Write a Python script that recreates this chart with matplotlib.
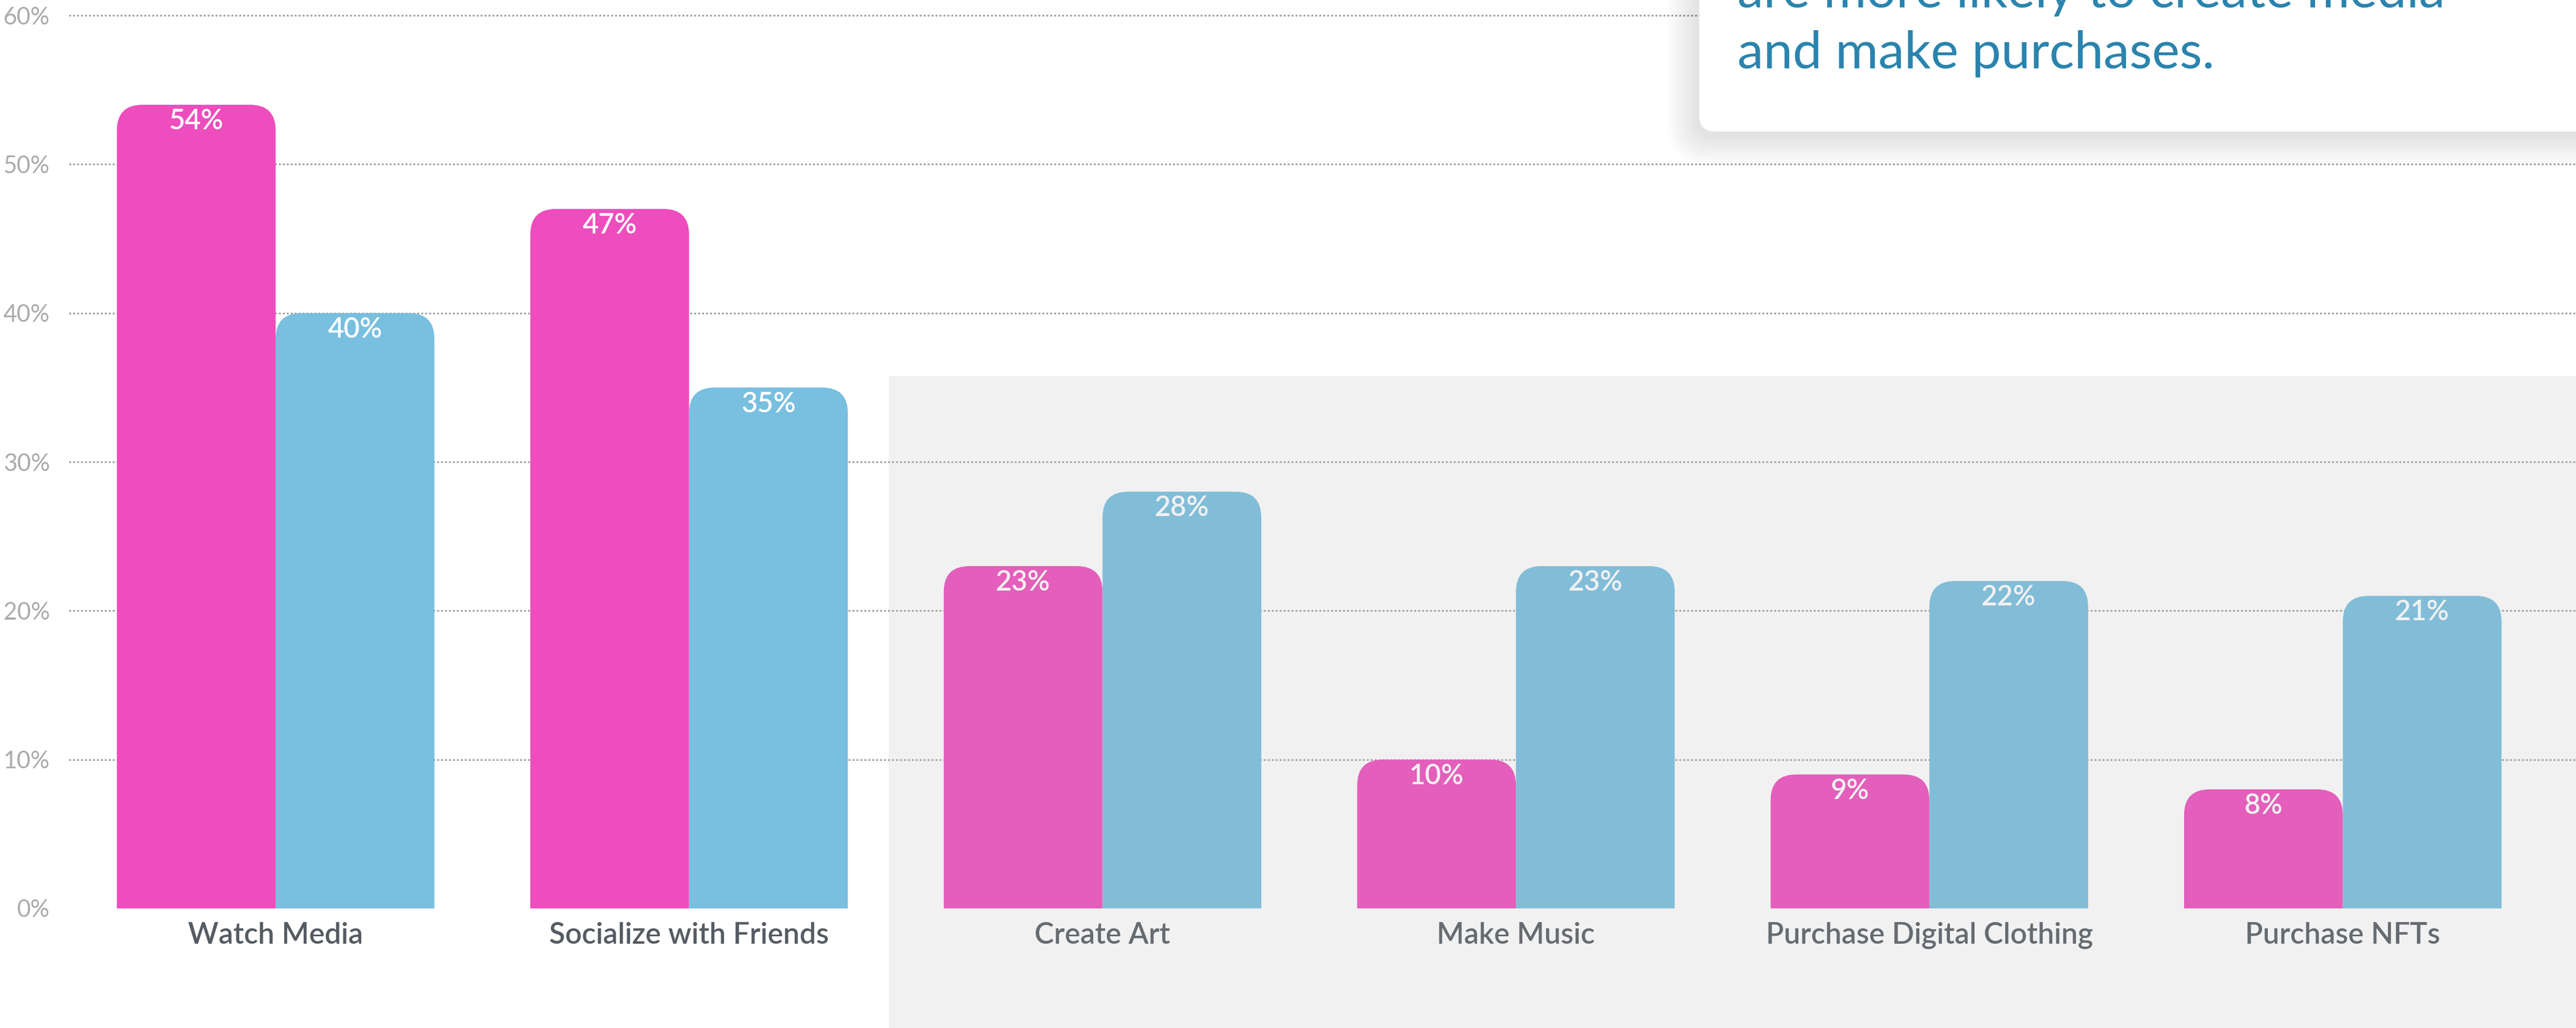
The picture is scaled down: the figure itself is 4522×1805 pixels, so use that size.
import matplotlib
matplotlib.use("Agg")
import matplotlib.pyplot as plt
from matplotlib.patches import FancyBboxPatch, Rectangle

# data
categories = ["Watch Media", "Socialize with Friends", "Create Art",
              "Make Music", "Purchase Digital Clothing", "Purchase NFTs"]
pink_vals = [54, 47, 23, 10, 9, 8]
blue_vals = [40, 35, 28, 23, 22, 21]
y_ticks = [0, 10, 20, 30, 40, 50, 60]
y_labels = ["0%", "10%", "20%", "30%", "40%", "50%", "60%"]
callout_lines = ["are more likely to create media", "and make purchases."]

PINK = "#EE4DBD"
BLUE = "#78BFE0"

plt.rcParams['font.family'] = ['Lato', 'DejaVu Sans']

W, H = 4522, 1805
fig = plt.figure(figsize=(W / 100, H / 100), dpi=100)
fig.patch.set_facecolor("white")

# main axes: pixel layout
ax = fig.add_axes([121 / W, 210 / H, (W - 121) / W, 1594 / H])
ax.set_xlim(-0.5, 5.564)
ax.set_ylim(0, 61)
for s in ax.spines.values():
    s.set_visible(False)

for v in y_ticks[1:]:
    ax.axhline(v, color="#9a9a9a", lw=2, ls=(0, (1.2, 1.3)), zorder=0)

bw = 0.384
r = 0.062
aspect = 27.78  # y units per x unit in pixel terms


def rounded_bar(x0, h, color):
    p = FancyBboxPatch((x0, -5), bw, h + 5,
                       boxstyle=f"round,pad=0,rounding_size={r}",
                       mutation_aspect=aspect, fc=color, ec="none", zorder=2)
    ax.add_patch(p)


for i, (pv, bv) in enumerate(zip(pink_vals, blue_vals)):
    rounded_bar(i - bw, pv, PINK)
    rounded_bar(i, bv, BLUE)
    for xc, v in ((i - bw / 2, pv), (i + bw / 2, bv)):
        ax.annotate(f"{v}%", (xc, v), xytext=(0, -21), textcoords="offset points",
                    ha="center", va="center", color="white", fontsize=35,
                    fontweight="semibold", zorder=3)

ax.set_yticks(y_ticks)
ax.set_yticklabels(y_labels, color="#ababab", fontsize=30)
ax.set_xticks(range(len(categories)))
ax.set_xticklabels(categories, color="#555b62", fontsize=37, fontweight="semibold")
ax.tick_params(axis="y", length=0, pad=24)
ax.tick_params(axis="x", length=0, pad=17)

# overlay layer in pixel coords (gray panel + callout box)
ov = fig.add_axes([0, 0, 1, 1], zorder=5)
ov.set_xlim(0, W)
ov.set_ylim(H, 0)
ov.axis("off")

ov.add_patch(Rectangle((1560, 660), W - 1560, H - 660, fc="#b4b4b4",
                       alpha=0.18, lw=0))

# soft shadow for callout
for k in range(14):
    pad = 2 + k * 4
    ov.add_patch(FancyBboxPatch((2983 - pad - 4, -100 - pad + 8), 1700 + 2 * pad, 331 + 2 * pad,
                                boxstyle=f"round,pad=0,rounding_size={28 + pad}",
                                fc="#000000", ec="none", alpha=0.008))
ov.add_patch(FancyBboxPatch((2983, -100), 1700, 331,
                            boxstyle="round,pad=0,rounding_size=28",
                            fc="white", ec="none"))
ov.text(3050, 13, callout_lines[0], fontsize=66, color="#2a84ad",
        fontweight="normal", va="baseline", ha="left")
ov.text(3050, 120, callout_lines[1], fontsize=66, color="#2a84ad",
        fontweight="normal", va="baseline", ha="left")

fig.savefig("out.png", dpi=100)
